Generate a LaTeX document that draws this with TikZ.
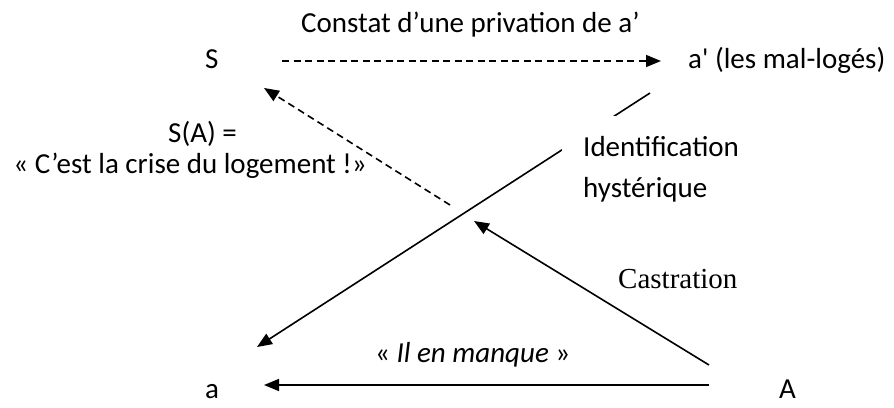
\documentclass[tikz,border=0pt]{standalone}
\usepackage{fontspec}
\setmainfont{Carlito}
\newfontfamily\timesfont{Liberation Serif}
\usetikzlibrary{arrows.meta}
\begin{document}
\begin{tikzpicture}[x=1pt,y=-1pt,
  lbl/.style={font=\fontsize{29}{35}\selectfont, inner sep=0pt},
  conn/.style={line width=1.6pt, -{Triangle[length=15pt,width=12pt]}},
  dconn/.style={conn, dash pattern=on 7pt off 4.5pt}]
\useasboundingbox (0,0) rectangle (894,407);
% main nodes
\node[lbl, anchor=base west] (S) at (205,68) {S};
\node[lbl, anchor=base west] (ap) at (688,68) {a\textquotesingle{} (les mal-logés)};
\node[lbl, anchor=base west] (a) at (205,398) {a};
\node[lbl, anchor=base west] (A) at (779,398) {A};
% labels
\node[lbl, anchor=base west] (constat) at (301,32) {Constat d’une privation de a’};
\node[lbl, anchor=base west] (sa) at (168,142) {S(A) =};
\node[lbl, anchor=base east] (crise) at (367,173) {« C’est la crise du logement !»};
\node[lbl, anchor=base west] (manque) at (375,362) {« \textit{Il en manque} »};
\node[font=\timesfont\fontsize{29}{35}\selectfont, inner sep=0pt, anchor=base west] (castr) at (618,288) {Castration};
% connector endpoints
\coordinate (p1) at (282,61);
\coordinate (p2) at (661,61);
\coordinate (q1) at (650,93);
\coordinate (q2) at (257,347);
\coordinate (r1) at (450,205);
\coordinate (r2) at (264,88);
\coordinate (c1) at (709,365);
\coordinate (c2) at (474,221);
\coordinate (b1) at (709,385);
\coordinate (b2) at (264,385);
% connectors
\draw[dconn] (p1) -- (p2);
\draw[conn] (q1) -- (q2);
\draw[dconn] (r1) -- (r2);
\draw[conn] (c1) -- (c2);
\draw[conn] (b1) -- (b2);
% identification label, its white box hides part of the line
\fill[white] (562,116) rectangle (760,205);
\node[lbl, anchor=base west] (ident) at (583,156) {Identification};
\node[lbl, anchor=base west] (hyst) at (583,197) {hystérique};
\end{tikzpicture}
\end{document}
